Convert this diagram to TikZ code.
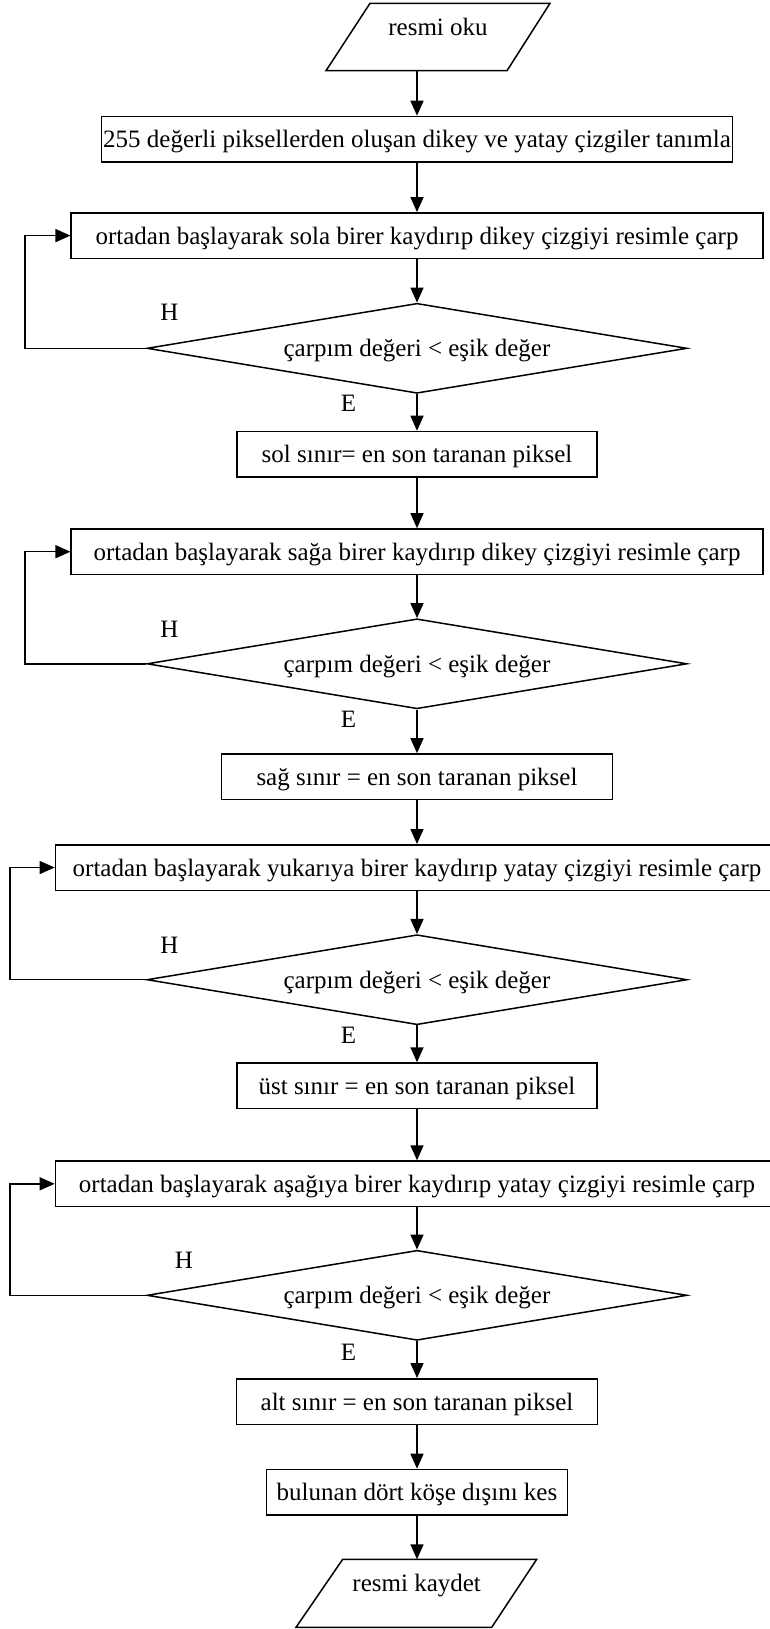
\documentclass[tikz,border=0pt]{standalone}
\usepackage{fontspec}
\setmainfont{Liberation Serif}
\usetikzlibrary{arrows.meta, shapes.geometric}

\begin{document}
\begin{tikzpicture}[x=0.5pt, y=-0.5pt,
  txt/.style={font=\fontsize{12.5}{15}\selectfont, inner sep=0pt,
              text height=8.5pt, text depth=0pt},
  flow/.style={line width=0.75pt},
  arr/.style={flow, -{Triangle[length=7.5pt, width=6.5pt]}},
  stepbox/.style={txt, draw, flow, rectangle, minimum height=22.75pt},
  test/.style={txt, draw, flow, diamond, aspect=6,
               minimum width=270pt, minimum height=45pt},
  lbl/.style={txt}
]
\useasboundingbox (0,0) rectangle (770,1629);
\coordinate (ax) at (417,0);

% input: read the image
\draw[flow] (326,70.7) coordinate (readbl) -- (370,3.3) -- (550,3.3)
  -- (507,70.7) -- cycle;
\node[lbl] (read) at (438,27) {resmi oku};

% process steps
\node[stepbox, minimum width=315.5pt] (def) at (417,139.2)
  {255 değerli piksellerden oluşan dikey ve yatay çizgiler tanımla};

\node[stepbox, minimum width=345.8pt] (left) at (417,235.6)
  {ortadan başlayarak sola birer kaydırıp dikey çizgiyi resimle çarp};
\node[test] (t1) at (417,348.3) {çarpım değeri < eşik değer};
\node[stepbox, minimum width=180pt] (lb) at (417,454.2)
  {sol sınır= en son taranan piksel};

\node[stepbox, minimum width=345.8pt] (right) at (417,551.7)
  {ortadan başlayarak sağa birer kaydırıp dikey çizgiyi resimle çarp};
\node[test] (t2) at (417,663.8) {çarpım değeri < eşik değer};
\node[stepbox, minimum width=195.5pt] (rb) at (417,776.7)
  {sağ sınır = en son taranan piksel};

\node[stepbox, minimum width=361.6pt] (up) at (417,867.5)
  {ortadan başlayarak yukarıya birer kaydırıp yatay çizgiyi resimle çarp};
\node[test] (t3) at (417,979.7) {çarpım değeri < eşik değer};
\node[stepbox, minimum width=180pt] (tb) at (417,1085.8)
  {üst sınır = en son taranan piksel};

\node[stepbox, minimum width=361.6pt] (down) at (417,1183.8)
  {ortadan başlayarak aşağıya birer kaydırıp yatay çizgiyi resimle çarp};
\node[test] (t4) at (417,1295.3) {çarpım değeri < eşik değer};
\node[stepbox, minimum width=180.5pt] (bb) at (417,1401.5)
  {alt sınır = en son taranan piksel};

\node[stepbox, minimum width=150.7pt] (crop) at (417,1492.2)
  {bulunan dört köşe dışını kes};

% output: save the image
\draw[flow] (296,1627.3) -- (342.7,1559.3) coordinate (savetl)
  -- (536.7,1559.3) -- (491.7,1627.3) -- cycle;
\node[lbl] (save) at (416.7,1583) {resmi kaydet};

% branch labels
\node[lbl] (h1) at (169.3,312) {H};
\node[lbl] (e1) at (348.4,403.3) {E};
\node[lbl] (h2) at (169.3,629) {H};
\node[lbl] (e2) at (348.4,718.8) {E};
\node[lbl] (h3) at (169.3,945) {H};
\node[lbl] (e3) at (348.4,1035.3) {E};
\node[lbl] (h4) at (184,1260) {H};
\node[lbl] (e4) at (348.4,1351.7) {E};

% main flow
\draw[arr] (readbl -| ax) -- (def.north -| ax);
\draw[arr] (def.south -| ax) -- (left.north -| ax);
\draw[arr] (left.south -| ax) -- (t1.north);
\draw[arr] (t1.south) -- (lb.north -| ax);
\draw[arr] (lb.south -| ax) -- (right.north -| ax);
\draw[arr] (right.south -| ax) -- (t2.north);
\draw[arr] (t2.south) -- (rb.north -| ax);
\draw[arr] (rb.south -| ax) -- (up.north -| ax);
\draw[arr] (up.south -| ax) -- (t3.north);
\draw[arr] (t3.south) -- (tb.north -| ax);
\draw[arr] (tb.south -| ax) -- (down.north -| ax);
\draw[arr] (down.south -| ax) -- (t4.north);
\draw[arr] (t4.south) -- (bb.north -| ax);
\draw[arr] (bb.south -| ax) -- (crop.north -| ax);
\draw[arr] (crop.south -| ax) -- (savetl -| ax);

% "H" loops back to the scan step
\draw[arr] (t1.west) -- ++(-121.2,0) |- (left.west);
\draw[arr] (t2.west) -- ++(-121.2,0) |- (right.west);
\draw[arr] (t3.west) -- ++(-136.4,0) |- (up.west);
\draw[arr] (t4.west) -- ++(-136.4,0) |- (down.west);
\end{tikzpicture}
\end{document}
